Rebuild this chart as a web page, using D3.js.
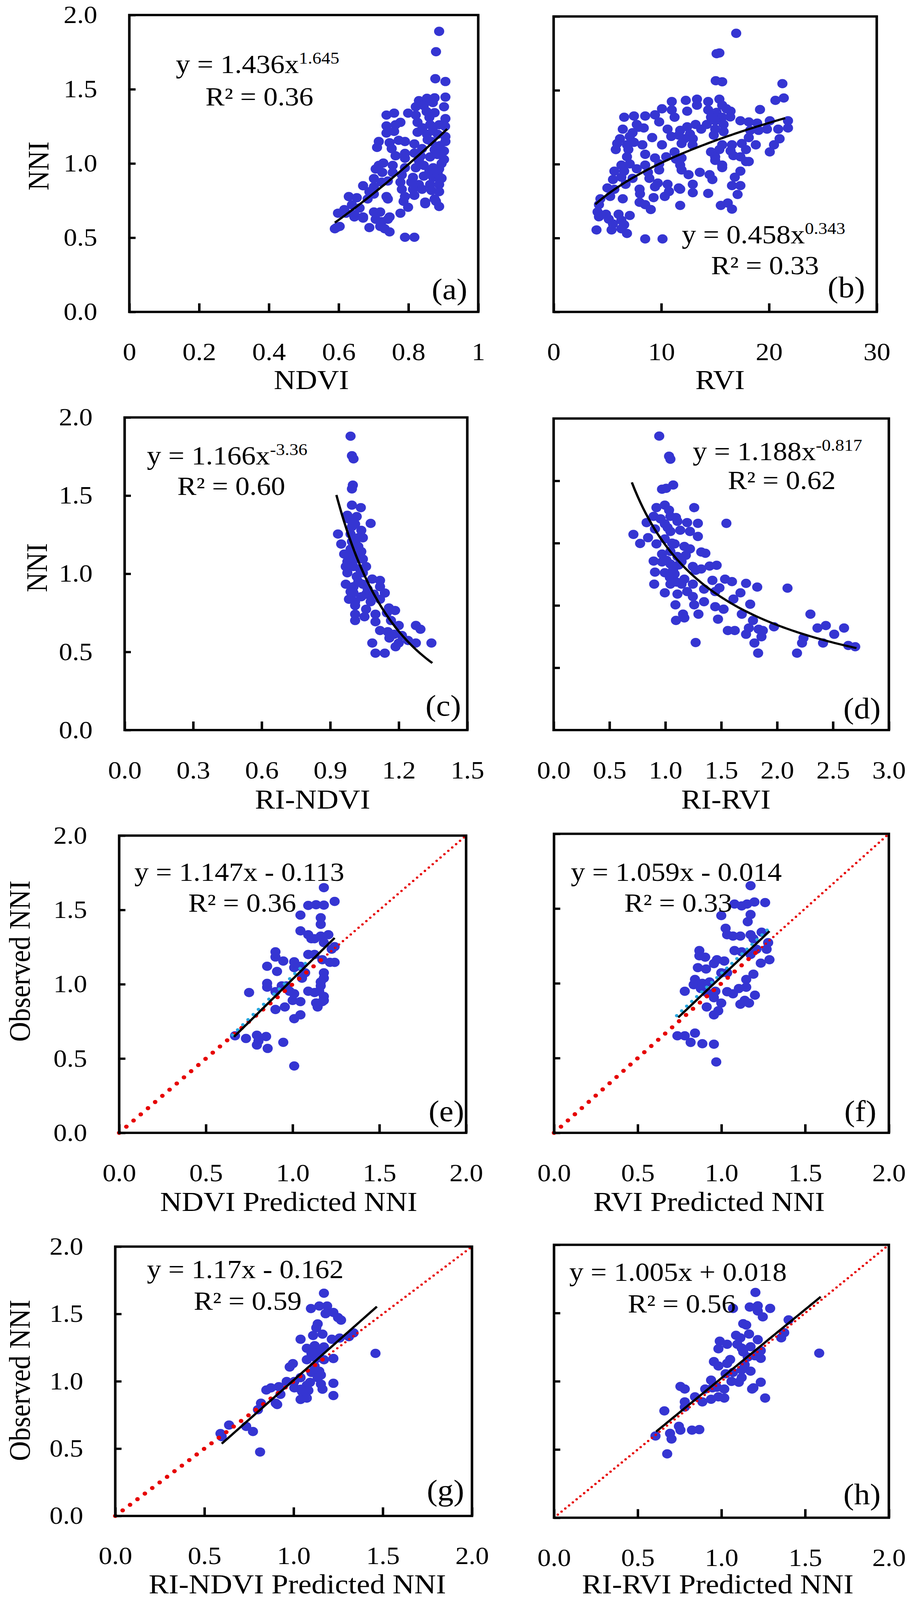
<!DOCTYPE html>
<html><head><meta charset="utf-8">
<script src="https://cdnjs.cloudflare.com/ajax/libs/d3/7.8.5/d3.min.js"></script>
<style>
html,body{margin:0;padding:0;background:#fff;overflow:hidden}
svg{display:block}
text{font-family:"Liberation Serif","Times New Roman",serif;fill:#000}
</style>
</head><body>
<svg id="chart" viewBox="0 0 2324 4473" preserveAspectRatio="none"></svg>
<script>
// ---------------- DATA ----------------
const ptsA = [[0.888,1.89],[0.879,1.753],[0.877,1.571],[0.906,1.552],[0.906,1.447],
[0.830,1.423],[0.853,1.439],[0.875,1.442],[0.902,1.382],[0.821,1.382],[0.844,1.390],
[0.737,1.326],[0.759,1.339],[0.799,1.339],[0.821,1.326],[0.875,1.342],[0.906,1.302],[0.852,1.35],
[0.737,1.253],[0.763,1.261],[0.777,1.277],[0.826,1.277],[0.862,1.261],[0.888,1.261],[0.905,1.25],
[0.737,1.205],[0.759,1.216],[0.826,1.21],[0.853,1.197],[0.884,1.197],[0.906,1.181],
[0.715,1.148],[0.746,1.140],[0.772,1.156],[0.790,1.148],[0.817,1.132],[0.866,1.148],[0.906,1.148],
[0.710,1.108],[0.752,1.10],[0.790,1.068],[0.817,1.07],[0.839,1.100],[0.875,1.092],[0.902,1.084],
[0.763,1.052],[0.790,1.035],[0.830,1.019],[0.862,1.044],[0.902,1.027],[0.883,1.06],
[0.715,0.987],[0.728,1.003],[0.755,0.987],[0.790,0.971],[0.821,0.971],[0.844,0.987],[0.871,0.971],[0.888,0.963],
[0.706,0.963],[0.725,0.94],[0.755,0.939],[0.781,0.923],[0.813,0.906],[0.844,0.915],[0.871,0.906],[0.884,0.931],
[0.701,0.898],[0.723,0.874],[0.741,0.882],[0.777,0.874],[0.808,0.874],[0.830,0.858],[0.862,0.858],[0.888,0.858],
[0.670,0.850],[0.701,0.842],[0.781,0.826],[0.813,0.826],[0.839,0.826],[0.866,0.818],[0.888,0.810],
[0.688,0.810],[0.701,0.794],[0.737,0.777],[0.790,0.777],[0.817,0.785],[0.875,0.761],
[0.629,0.777],[0.652,0.769],[0.683,0.761],[0.741,0.761],[0.786,0.745],[0.848,0.729],[0.879,0.745],
[0.638,0.721],[0.66,0.70],[0.799,0.705],[0.888,0.710],[0.848,0.74],
[0.616,0.689],[0.598,0.665],[0.621,0.665],[0.645,0.656],[0.670,0.640],[0.701,0.673],[0.719,0.673],[0.746,0.640],[0.777,0.665],
[0.645,0.64],[0.670,0.632],[0.706,0.624],[0.723,0.608],[0.741,0.624],
[0.594,0.568],[0.603,0.576],[0.589,0.560],[0.688,0.568],[0.719,0.576],[0.732,0.560],[0.746,0.539],
[0.790,0.503],[0.817,0.503],
[0.86,1.31],[0.87,1.22],[0.89,1.12],[0.855,1.16],[0.835,1.05],[0.895,1.0],[0.86,0.95],[0.895,0.9],[0.87,1.41],[0.84,1.24]];

const ptsB = [[16.95,1.886],[15.13,1.748],[15.39,1.753],[15.05,1.565],[15.65,1.558],[21.24,1.545],
[21.37,1.448],[20.59,1.432],[19.16,1.370],
[10.97,1.424],[12.27,1.432],[13.31,1.44],[13.31,1.399],[14.35,1.424],[15.39,1.44],[15.65,1.399],
[10.06,1.375],[10.97,1.367],[12.40,1.359],[14.35,1.367],[15.13,1.351],[16.04,1.375],[16.43,1.359],
[6.55,1.318],[7.46,1.326],[8.50,1.326],[9.41,1.334],[11.23,1.318],[14.61,1.318],[15.65,1.318],[16.4,1.32],
[7.72,1.269],[7.9,1.25],[9.80,1.286],[10.58,1.237],[11.75,1.229],[12.40,1.253],[13.18,1.269],[14.22,1.269],[15.0,1.294],[15.78,1.269],[17.34,1.294],[18.12,1.286],[18.90,1.278],[20.07,1.294],[21.76,1.294],
[6.42,1.237],[7.33,1.213],[8.37,1.245],[11.62,1.196],[12.66,1.204],[13.70,1.237],[15.0,1.237],[15.78,1.221],[18.25,1.229],[19.03,1.229],[19.81,1.237],[20.85,1.237],[21.76,1.245],
[6.16,1.172],[7.07,1.188],[9.15,1.180],[10.92,1.188],[12.14,1.172],[12.92,1.172],[14.87,1.196],[18.12,1.180],[20.98,1.172],
[5.90,1.140],[6.81,1.131],[7.46,1.148],[8.24,1.131],[10.06,1.131],[11.88,1.140],[12.9,1.13],[15.65,1.131],[16.56,1.131],[17.47,1.140],[18.77,1.131],[20.46,1.131],
[5.77,1.099],[6.94,1.099],[11.23,1.083],[14.61,1.083],[15.39,1.099],[16.43,1.09],[17.86,1.099],[20.07,1.083],
[6.81,1.050],[8.50,1.067],[9.41,1.042],[10.45,1.050],[11.36,1.034],[11.88,1.042],[15.0,1.050],[16.69,1.058],[17.34,1.050],[17.86,1.018],
[6.29,0.994],[7.07,1.002],[8.50,0.994],[9.80,1.002],[11.75,0.994],[15.0,1.026],[15.65,0.994],[18.12,1.018],
[5.64,0.953],[6.55,0.953],[7.72,0.969],[8.76,0.945],[9.80,0.961],[11.88,0.961],[15.65,0.977],[17.34,0.953],
[5.51,0.896],[6.29,0.912],[7.33,0.904],[8.89,0.904],[9.67,0.872],[12.53,0.929],[13.57,0.945],[14.48,0.929],[14.74,0.896],[16.82,0.912],
[4.99,0.839],[5.64,0.83],[6.68,0.864],[7.98,0.831],[9.41,0.847],[10.58,0.864],[11.62,0.839],[12.92,0.864],[16.56,0.855],[17.34,0.855],
[4.34,0.766],[5.25,0.782],[6.42,0.766],[8.02,0.799],[9.28,0.774],[10.32,0.782],[10.71,0.815],[11.75,0.831],[12.92,0.807],[14.35,0.802],[17.08,0.795],
[4.21,0.726],[7.98,0.742],[8.50,0.726],[11.75,0.721],[15.52,0.721],[16.17,0.737],
[4.08,0.677],[4.86,0.661],[6.03,0.661],[7.07,0.653],[9.02,0.693],[16.56,0.696],
[4.21,0.644],[5.12,0.628],[5.51,0.596],[6.29,0.620],[6.55,0.59],
[3.98,0.555],[5.38,0.555],[6.29,0.563],[6.81,0.531],
[8.50,0.494],[10.11,0.494]];

const ptsC = [[0.989,1.880],[0.995,1.755],[1.002,1.735],[0.999,1.567],[0.995,1.543],
[0.995,1.439],[1.034,1.423],[0.975,1.374],[1.016,1.366],[1.077,1.322],
[0.934,1.254],[0.995,1.302],[1.036,1.278],[1.043,1.230],
[0.948,1.190],[0.995,1.206],[1.023,1.174],[1.036,1.142],
[0.982,1.126],[1.016,1.12],[1.043,1.094],
[0.975,1.078],[1.002,1.046],[1.057,1.046],
[0.975,1.006],[1.016,0.982],[1.084,0.966],[1.118,0.957],
[0.968,0.933],[1.002,0.917],[1.043,0.933],[1.118,0.917],
[1.002,0.877],[1.057,0.869],[1.139,0.877],
[1.009,0.821],[1.077,0.821],[1.118,0.837],
[1.009,0.797],[1.057,0.773],[1.157,0.781],[1.184,0.765],
[1.009,0.741],[1.050,0.725],[1.098,0.741],[1.148,0.75],
[1.009,0.701],[1.098,0.693],[1.166,0.701],
[1.200,0.669],[1.275,0.669],[1.295,0.645],
[1.118,0.637],[1.152,0.629],[1.180,0.613],[1.214,0.605],
[1.159,0.589],[1.200,0.557],[1.241,0.573],[1.275,0.557],[1.343,0.557],
[1.084,0.557],[1.186,0.533],[1.098,0.492],[1.139,0.492],
[0.982,1.350],[1.009,1.318],[0.989,1.254],[1.023,1.230],[1.009,1.190],[0.989,1.158],[1.009,1.094],[1.030,1.030],[1.043,1.006],[1.023,0.949],[1.064,0.901],[1.036,0.853],[1.091,0.869],[0.982,0.837],[0.989,0.885],[0.968,1.046],[0.961,1.126]];

const ptsD = [[0.945,1.887],[1.033,1.758],[1.045,1.739],[0.970,1.546],[1.007,1.552],[1.070,1.573],
[0.920,1.428],[0.995,1.444],[1.033,1.412],[1.258,1.428],
[0.895,1.372],[0.957,1.356],[1.045,1.372],[1.095,1.364],[1.546,1.327],
[0.832,1.332],[0.995,1.324],[1.108,1.340],[1.195,1.332],[1.291,1.327],
[0.714,1.256],[0.845,1.235],[0.907,1.291],[1.045,1.275],[1.133,1.283],[1.220,1.275],[1.291,1.243],
[0.774,1.198],[0.920,1.195],[0.995,1.227],[1.083,1.195],[1.170,1.179],[1.220,1.163],
[1.321,1.143],[1.358,1.135],
[0.970,1.130],[1.045,1.147],[1.108,1.114],[1.183,1.122],
[0.895,1.085],[0.970,1.079],[1.045,1.066],[1.145,1.082],[1.246,1.050],[1.396,1.053],[1.459,1.058],
[0.907,1.014],[0.995,1.010],[1.083,1.002],[1.170,0.969],[1.271,1.026],[1.321,1.034],
[0.900,0.937],[1.045,0.937],[1.145,0.937],[1.246,0.937],[1.421,0.961],[1.534,0.969],[1.596,0.953],[1.722,0.942],
[1.822,0.918],[2.093,0.911],
[0.995,0.881],[1.108,0.873],[1.195,0.889],[1.246,0.857],[1.346,0.905],[1.446,0.889],[1.484,0.913],[1.672,0.881],
[1.346,0.824],[1.446,0.792],[1.521,0.776],[1.609,0.841],[1.759,0.808],[1.090,0.804],[1.258,0.804],
[1.158,0.744],[1.296,0.744],[1.471,0.712],[1.684,0.744],[1.095,0.704],[1.170,0.720],
[1.784,0.704],[1.747,0.655],[1.835,0.647],[1.972,0.663],
[1.559,0.639],[1.621,0.639],[1.722,0.615],[1.860,0.599],[1.872,0.639],
[2.298,0.744],[2.361,0.655],[2.436,0.671],[2.599,0.655],[2.236,0.591],[2.511,0.615],
[1.271,0.562],[1.797,0.559],[2.223,0.559],[2.411,0.559],[2.637,0.543],[2.699,0.535],
[1.830,0.494],[2.178,0.494],
[1.02,1.30],[1.06,1.20],[1.01,1.09],[1.07,1.03],[1.12,1.06],[1.04,0.98],[1.10,0.95]];

const ptsE = [[1.180,1.650],[1.242,1.557],[1.090,1.530],[1.135,1.535],[1.180,1.532],[1.045,1.465],
[1.162,1.447],[1.162,1.403],[1.045,1.359],[1.090,1.333],[1.108,1.306],
[1.126,1.306],[1.162,1.324],[1.206,1.333],[1.180,1.280],[1.225,1.236],[1.242,1.253],
[0.901,1.218],[0.901,1.183],[1.090,1.200],[1.126,1.200],
[1.171,1.165],[1.215,1.147],[1.242,1.147],[0.946,1.156],[1.009,1.151],[1.009,1.112],[1.045,1.121],
[0.853,1.121],[0.910,1.086],[1.180,1.077],[1.180,1.041],[1.072,1.077],[1.054,1.041],
[0.853,1.006],[0.853,0.980],[1.162,1.015],[1.162,0.989],[0.937,0.989],[0.964,0.989],[0.982,0.953],
[0.749,0.944],[0.901,0.950],[1.090,0.953],[1.126,0.944],[1.153,0.953],[1.009,0.936],
[1.180,0.918],[1.180,0.891],[1.000,0.891],[1.045,0.883],[1.135,0.874],[1.144,0.847],[1.171,0.883],
[0.955,0.847],[0.901,0.830],[1.045,0.794],[1.009,0.768],
[0.731,0.635],[0.668,0.653],[0.794,0.657],[0.847,0.648],[0.803,0.618],[0.946,0.609],
[0.794,0.591],[0.856,0.568],[1.009,0.450]];

const ptsF = [[1.174,1.653],[1.078,1.530],[1.121,1.518],[1.153,1.530],[1.197,1.544],[1.261,1.540],
[0.999,1.453],[1.174,1.460],[1.157,1.412],
[1.025,1.368],[1.034,1.325],[1.069,1.316],[1.113,1.316],[1.174,1.325],[1.191,1.298],[1.240,1.342],
[1.279,1.272],[1.270,1.228],[1.078,1.219],[1.121,1.211],[1.209,1.228],[1.174,1.193],
[0.868,1.219],[0.868,1.184],[0.903,1.175],[0.973,1.158],[1.017,1.149],[0.955,1.132],
[1.287,1.158],[1.235,1.135],[0.859,1.105],[0.908,1.096],[0.999,1.070],[1.034,1.070],
[1.191,1.061],[1.148,1.026],[0.842,1.026],[0.834,0.991],[0.886,1.000],[0.929,1.009],[0.877,0.965],
[0.781,0.947],[0.912,0.939],[0.964,0.947],[1.034,0.944],[1.069,0.930],[1.104,0.965],[1.148,0.974],
[0.955,0.904],[1.200,0.921],[0.999,0.868],[1.139,0.886],[1.113,0.860],[1.165,0.868],
[0.912,0.842],[0.981,0.816],[0.955,0.789],
[0.737,0.649],[0.781,0.649],[0.842,0.667],[0.816,0.605],[0.886,0.596],[0.955,0.593],[0.969,0.474]];

const ptsG = [[1.170,1.654],[1.097,1.540],[1.144,1.559],[1.188,1.559],
[1.179,1.502],[1.223,1.511],[1.249,1.473],[1.266,1.454],[1.135,1.426],[1.127,1.397],
[1.109,1.340],[1.162,1.350],[1.214,1.312],[1.258,1.321],[1.039,1.312],[1.310,1.331],[1.336,1.359],
[1.074,1.245],[1.118,1.264],[1.170,1.255],[1.144,1.217],[1.100,1.207],[1.459,1.207],
[1.223,1.169],[1.170,1.160],[1.127,1.169],[1.074,1.160],[0.996,1.131],[0.978,1.106],
[1.118,1.112],[1.100,1.065],[1.144,1.074],[1.153,1.046],[1.039,1.027],[1.135,1.027],
[0.961,0.998],[1.004,0.998],[1.092,0.992],[1.074,0.970],[1.223,0.985],[1.153,0.979],[1.162,0.941],
[1.004,0.951],[1.039,0.941],[1.083,0.932],[1.048,0.922],[0.847,0.935],[0.873,0.951],
[0.917,0.960],[0.926,0.903],[1.223,0.894],[1.039,0.865],[1.074,0.875],
[0.900,0.837],[0.908,0.827],[0.817,0.837],[0.800,0.789],
[0.638,0.675],[0.734,0.665],[0.772,0.627],[0.590,0.612],[0.597,0.589],[0.812,0.475]];

const ptsH = [[1.203,1.651],[1.069,1.534],[1.169,1.544],[1.217,1.553],[1.217,1.515],[1.291,1.534],[1.247,1.472],
[1.401,1.450],[1.130,1.422],[1.148,1.412],
[1.087,1.337],[1.113,1.318],[1.165,1.346],[1.217,1.305],[1.375,1.356],[1.357,1.318],
[0.990,1.294],[1.034,1.271],[1.095,1.271],[1.121,1.243],[1.174,1.253],[1.235,1.224],[0.982,1.238],
[1.584,1.206],[1.130,1.215],[1.157,1.177],[1.200,1.187],[1.235,1.168],
[0.955,1.144],[0.982,1.112],[1.052,1.159],[1.034,1.131],[1.139,1.121],[1.121,1.084],[1.174,1.074],
[1.025,1.055],[1.069,1.065],[0.938,1.008],[1.060,0.999],[1.104,0.993],[1.121,1.027],
[0.755,0.962],[0.781,0.943],[0.903,0.943],[0.947,0.952],[0.973,0.956],[1.017,0.943],
[1.235,0.993],[1.191,0.952],[1.183,0.943],
[0.842,0.886],[0.886,0.849],[0.938,0.868],[1.017,0.877],[0.982,0.886],[1.261,0.877],
[0.781,0.849],[0.781,0.811],[0.659,0.783],
[0.746,0.670],[0.755,0.642],[0.824,0.642],[0.868,0.646],[0.606,0.599],[0.693,0.618],[0.702,0.577],[0.676,0.468]];

// x tick values and labels
const xTicksA = [0,0.2,0.4,0.6,0.8,1],   xLabelsA = ["0","0.2","0.4","0.6","0.8","1"];
const xTicksB = [0,10,20,30],            xLabelsB = ["0","10","20","30"];
const xTicksC = [0,0.3,0.6,0.9,1.2,1.5], xLabelsC = ["0.0","0.3","0.6","0.9","1.2","1.5"];
const xTicksD = [0,0.5,1,1.5,2,2.5,3],   xLabelsD = ["0.0","0.5","1.0","1.5","2.0","2.5","3.0"];
const xTicksP = [0,0.5,1,1.5,2],         xLabelsP = ["0.0","0.5","1.0","1.5","2.0"];
const yTicks = [0,0.5,1,1.5,2],          yLabels = ["0.0","0.5","1.0","1.5","2.0"];
const yTicksD = [0.4,0.8,1.2,1.6];

// fitted equations: [type, coefficient, exponent/intercept, xmin, xmax]
const fitA = ["pow",1.436,1.645,0.589,0.911];
const fitB = ["pow",0.458,0.343,3.87,21.5];
const fitC = ["pow",1.166,-3.36,0.927,1.347];
const fitD = ["pow",1.188,-0.817,0.70,2.71];
const fitE = ["lin",1.147,-0.113,0.662,1.242];
const fitF = ["lin",1.059,-0.014,0.742,1.287];
const fitG = ["lin",1.17,-0.162,0.597,1.467];
const fitH = ["lin",1.005,0.018,0.61,1.593];

const eqText = {
 a:["y = 1.436x","1.645","R² = 0.36"], b:["y = 0.458x","0.343","R² = 0.33"],
 c:["y = 1.166x","-3.36","R² = 0.60"], d:["y = 1.188x","-0.817","R² = 0.62"],
 e:["y = 1.147x - 0.113","","R² = 0.36"], f:["y = 1.059x - 0.014","","R² = 0.33"],
 g:["y = 1.17x - 0.162","","R² = 0.59"], h:["y = 1.005x + 0.018","","R² = 0.56"]};

const xTitles = {a:"NDVI",b:"RVI",c:"RI-NDVI",d:"RI-RVI",e:"NDVI Predicted NNI",f:"RVI Predicted NNI",g:"RI-NDVI Predicted NNI",h:"RI-RVI Predicted NNI"};
const yTitles = {a:"NNI",c:"NNI",e:"Observed NNI",g:"Observed NNI"};

// ---------------- LAYOUT ----------------
const panels = [
 {id:"a",pts:ptsA,fit:fitA,xd:[0,1],xt:xTicksA,xl:xLabelsA,yt:yTicks,lab:true, f:[331,42,1224,872], eq:[450,204,526,295], pl:[1196,836], xtt:[797,1088], ytt:[124,464], one:null},
 {id:"b",pts:ptsB,fit:fitB,xd:[0,30],xt:xTicksB,xl:xLabelsB,yt:yTicks,lab:false,f:[1417,46,2244,872], eq:[1745,680,1820,767], pl:[2214,831], xtt:[1843,1088], one:null},
 {id:"c",pts:ptsC,fit:fitC,xd:[0,1.5],xt:xTicksC,xl:xLabelsC,yt:yTicks,lab:true, f:[319,1167,1196,2041], eq:[376,1298,454,1384], pl:[1180,2001], xtt:[800,2261], ytt:[120,1587], one:null},
 {id:"d",pts:ptsD,fit:fitD,xd:[0,3],xt:xTicksD,xl:xLabelsD,yt:yTicksD,lab:false,f:[1417,1170,2275,2041], eq:[1773,1286,1863,1367], pl:[2254,2008], xtt:[1858,2261], one:null},
 {id:"e",pts:ptsE,fit:fitE,xd:[0,2],xt:xTicksP,xl:xLabelsP,yt:yTicks,lab:true, f:[305,2336,1193,3167], eq:[344,2463,482,2549], pl:[1188,3134], xtt:[739,3385], ytt:[76,2687], one:[1.2,true], cyan:[0.662,1.10]},
 {id:"f",pts:ptsF,fit:fitF,xd:[0,2],xt:xTicksP,xl:xLabelsP,yt:yTicks,lab:false,f:[1418,2331,2275,3167], eq:[1461,2463,1598,2549], pl:[2243,3134], xtt:[1815,3385], one:[1.22,true], cyan:[0.742,1.29]},
 {id:"g",pts:ptsG,fit:fitG,xd:[0,2],xt:xTicksP,xl:xLabelsP,yt:yTicks,lab:true, f:[295,3485,1208,4238], eq:[376,3573,496,3662], pl:[1188,4195], xtt:[761,4454], ytt:[76,3859], one:[1.2,true]},
 {id:"h",pts:ptsH,fit:fitH,xd:[0,2],xt:xTicksP,xl:xLabelsP,yt:yTicks,lab:false,f:[1418,3480,2275,4243], eq:[1457,3581,1607,3669], pl:[2254,4206], xtt:[1837,4454], one:[0,false]}
];

// fill the viewport with the full figure
const W = window.innerWidth || 2324, H = window.innerHeight || 4473;
const svg = d3.select("#chart").attr("width", W).attr("height", H);
const BLUE = "#3535d2", RED = "#e60000", CYAN = "#29a8e0";
const FS_TICK = 69, FS_EQ = 73, FS_SUP = 46, FS_TITLE = 77, FS_PL = 82;

panels.forEach(p => {
  const [x0,y0,x1,y1] = p.f;
  const x = d3.scaleLinear().domain(p.xd).range([x0,x1]);
  const y = d3.scaleLinear().domain([0,2]).range([y1,y0]);
  const g = svg.append("g");

  // observations
  g.append("g").selectAll("circle").data(p.pts).join("circle")
    .attr("cx", d => x(d[0])).attr("cy", d => y(d[1])).attr("r", 13).attr("fill", BLUE);

  // 1:1 line, red round dots
  if (p.one) {
    const [xb, big] = p.one;
    const gl = g.append("g");
    if (big) {
      gl.selectAll("circle.big").data(d3.range(0, xb + 1e-9, 0.0415)).join("circle")
        .attr("cx", d => x(d)).attr("cy", d => y(d)).attr("r", 5.8).attr("fill", RED);
    }
    gl.selectAll("circle.small").data(d3.range(xb, 2 + 1e-9, 0.0225)).join("circle")
      .attr("cx", d => x(d)).attr("cy", d => y(d)).attr("r", 3.2).attr("fill", RED);
  }

  // trend line
  const [type, k, m, xa, xz] = p.fit;
  const fx = v => type === "pow" ? k * Math.pow(v, m) : k * v + m;
  if (p.cyan) {
    g.append("g").selectAll("circle").data(d3.range(p.cyan[0], p.cyan[1], 0.03)).join("circle")
      .attr("cx", d => x(d) - 4).attr("cy", d => y(fx(d)) - 5).attr("r", 4.5).attr("fill", CYAN);
  }
  const xs = d3.range(0, 81).map(i => xa + (xz - xa) * i / 80);
  g.append("path").datum(xs)
    .attr("d", d3.line().x(d => x(d)).y(d => y(fx(d))))
    .attr("fill", "none").attr("stroke", "#000").attr("stroke-width", 6);

  // axes with inside ticks
  const ax = g.append("g").attr("transform", `translate(0,${y1})`)
    .call(d3.axisBottom(x).tickValues(p.xt).tickFormat((d,i) => p.xl[i]).tickSize(-24).tickPadding(86));
  const ay = g.append("g").attr("transform", `translate(${x0},0)`)
    .call(d3.axisLeft(y).tickValues(p.yt).tickFormat((d,i) => p.lab ? yLabels[i] : "").tickSize(-16).tickPadding(82));
  [ax, ay].forEach(a => {
    a.select(".domain").remove();
    a.selectAll("line").attr("stroke", "#000").attr("stroke-width", 6.3);
    a.selectAll("text").attr("font-size", FS_TICK).attr("font-family", '"Liberation Serif","Times New Roman",serif').attr("fill", "#000");
  });

  // plot frame
  g.append("rect").attr("x", x0).attr("y", y0).attr("width", x1 - x0).attr("height", y1 - y0)
    .attr("fill", "none").attr("stroke", "#000").attr("stroke-width", 6.5);

  // equation + R²
  const [t1, sup, t2] = eqText[p.id];
  const e1 = g.append("text").attr("x", p.eq[0]).attr("y", p.eq[1]).attr("font-size", FS_EQ);
  e1.append("tspan").text(t1);
  if (sup) e1.append("tspan").attr("font-size", FS_SUP).attr("dy", -26).text(sup);
  g.append("text").attr("x", p.eq[2]).attr("y", p.eq[3]).attr("font-size", FS_EQ).text(t2);

  // panel tag
  g.append("text").attr("x", p.pl[0]).attr("y", p.pl[1]).attr("text-anchor", "end").attr("font-size", FS_PL).text(`(${p.id})`);

  // axis titles
  g.append("text").attr("x", p.xtt[0]).attr("y", p.xtt[1]).attr("text-anchor", "middle").attr("font-size", FS_TITLE).text(xTitles[p.id]);
  if (p.ytt) {
    g.append("text").attr("transform", `translate(${p.ytt[0]},${p.ytt[1]}) rotate(-90)`)
      .attr("text-anchor", "middle").attr("font-size", FS_TITLE).text(yTitles[p.id]);
  }
});
</script>
</body></html>
